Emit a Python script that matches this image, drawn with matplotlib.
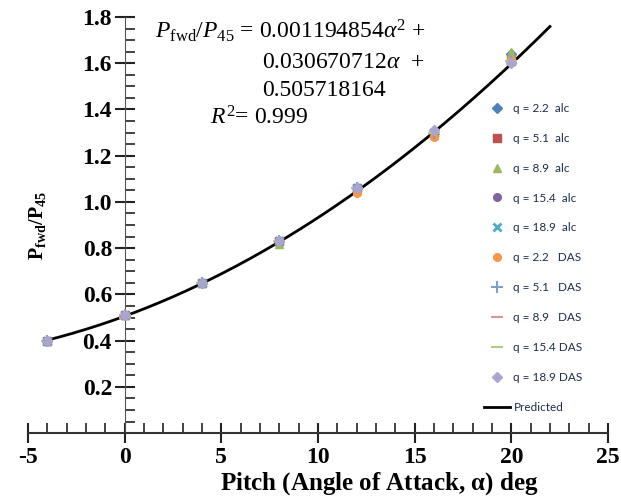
import numpy as np
import matplotlib
matplotlib.use('Agg')
import matplotlib.pyplot as plt
from matplotlib.ticker import MultipleLocator

# pitch angles (deg)
alpha = [-4, 0, 4, 8, 12, 16, 20]

# measured Pfwd/P45 for each run
labels = ['q = 2.2  alc', 'q = 5.1  alc', 'q = 8.9  alc', 'q = 15.4  alc', 'q = 18.9  alc',
          'q = 2.2   DAS', 'q = 5.1   DAS', 'q = 8.9   DAS', 'q = 15.4 DAS', 'q = 18.9 DAS']
values = [
    [0.40, 0.51, 0.65, 0.83, 1.06, 1.30, 1.64],
    [0.40, 0.51, 0.65, 0.83, 1.06, 1.30, 1.61],
    [0.40, 0.51, 0.65, 0.82, 1.05, 1.29, 1.65],
    [0.40, 0.51, 0.65, 0.83, 1.06, 1.30, 1.61],
    [0.40, 0.51, 0.65, 0.83, 1.06, 1.30, 1.62],
    [0.40, 0.51, 0.65, 0.83, 1.04, 1.28, 1.62],
    [0.40, 0.51, 0.65, 0.83, 1.06, 1.30, 1.61],
    [0.40, 0.50, 0.65, 0.83, 1.06, 1.30, 1.61],
    [0.40, 0.51, 0.65, 0.83, 1.06, 1.30, 1.61],
    [0.40, 0.51, 0.65, 0.83, 1.06, 1.31, 1.60],
]
markers = ['D', 's', '^', 'o', 'x', 'o', '+', '_', '_', 'D']
colors = ['#4F81BD', '#C0504D', '#9BBB59', '#8064A2', '#4BACC6',
          '#F79646', '#7F9FD0', '#D99694', '#B3CC82', '#A9A4D0']

# quadratic fit coefficients
coef = [0.001194854, 0.030670712, 0.505718164]
fit_range = [-4, 22]

plt.rcParams['axes.unicode_minus'] = False
plt.rcParams['mathtext.fontset'] = 'custom'
plt.rcParams['mathtext.rm'] = 'Liberation Serif'
plt.rcParams['mathtext.it'] = 'Liberation Serif:italic'
plt.rcParams['mathtext.bf'] = 'Liberation Serif:bold'

fig = plt.figure(figsize=(6.21, 4.99), dpi=100)
ax = fig.add_axes([0.045, 0.132, 0.934, 0.834])

for vals, m, c, lab in zip(values, markers, colors, labels):
    ms = 5.5
    mew = 1.0
    if m == 'x':
        mew = 2.0
    if m in ('+', '_'):
        mew = 1.5
        ms = 8
    ax.plot(alpha, vals, linestyle='none', marker=m, color=c, markersize=ms,
            markeredgewidth=mew, label=lab, zorder=3)

xs = np.linspace(fit_range[0], fit_range[1], 200)
ys = coef[0] * xs ** 2 + coef[1] * xs + coef[2]
ax.plot(xs, ys, color='black', linewidth=2, label='Predicted', zorder=2)

ax.set_xlim(-5, 25)
ax.set_ylim(0, 1.8)
ax.spines['left'].set_position(('data', 0))
ax.spines['bottom'].set_position(('data', 0))
ax.spines['top'].set_visible(False)
ax.spines['right'].set_visible(False)
ax.spines['left'].set_color('#555555')
ax.spines['bottom'].set_color('#333333')
ax.spines['bottom'].set_linewidth(1.5)

ax.set_xticks(range(-5, 26, 5))
ax.set_yticks([0.2, 0.4, 0.6, 0.8, 1.0, 1.2, 1.4, 1.6, 1.8])
ax.set_yticklabels(['0.2', '0.4', '0.6', '0.8', '1.0', '1.2', '1.4', '1.6', '1.8'])
ax.xaxis.set_minor_locator(MultipleLocator(1))
ax.yaxis.set_minor_locator(MultipleLocator(0.05))
ax.tick_params(axis='both', which='major', direction='inout', length=14, width=1.5, colors='#222222')
ax.tick_params(axis='both', which='minor', direction='in', length=7, width=1.2, colors='#222222')
ax.tick_params(axis='y', which='major', pad=2)
ax.tick_params(axis='x', which='major', pad=3)
for lab in ax.get_xticklabels() + ax.get_yticklabels():
    lab.set_fontfamily('Liberation Serif')
    lab.set_fontweight('bold')
    lab.set_fontsize(17)
    lab.set_color('black')

ax.set_xlabel(r'Pitch (Angle of Attack, $\mathregular{\alpha}$) deg', fontfamily='Liberation Serif',
              fontweight='bold', fontsize=18)
ax.xaxis.set_label_coords(0.605, -0.09)
ax.set_ylabel(r'P$_{\mathregular{fwd}}$/P$_{\mathregular{45}}$', fontfamily='Liberation Serif',
              fontweight='bold', fontsize=14.5)
ax.yaxis.set_label_coords(0.035, 0.5)

tkw = dict(fontfamily='Liberation Serif', fontsize=17, transform=fig.transFigure, va='center')
fig.text(155 / 621, 1 - 31 / 499, r'$P_{\mathrm{fwd}}/P_{45}$ = 0.001194854$\alpha^2$ +', **tkw)
fig.text(262 / 621, 1 - 62 / 499, r'0.030670712$\alpha$  +', **tkw)
fig.text(262 / 621, 1 - 91 / 499, '0.505718164', **tkw)
fig.text(210 / 621, 1 - 118 / 499, r'$R^2$= 0.999', **tkw)

leg = ax.legend(loc='upper left', bbox_to_anchor=(478 / 621, 1 - 97 / 499),
                bbox_transform=fig.transFigure, frameon=False,
                prop={'family': 'Lato', 'size': 8.5}, labelspacing=1.6,
                handlelength=2.2, handletextpad=0.3, borderpad=0)
for t in leg.get_texts():
    t.set_color('#1F2D4A')

fig.savefig('out.png', dpi=100)
